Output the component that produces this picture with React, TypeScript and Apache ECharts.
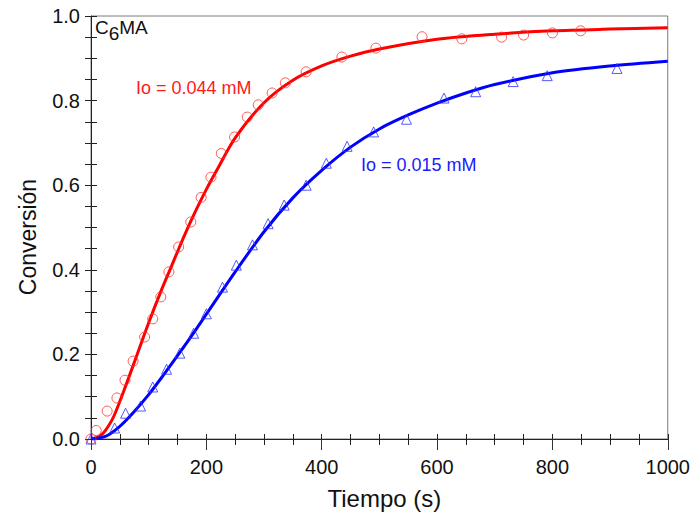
import React, { useEffect, useRef } from "react";
import * as echarts from "echarts";

// Measured points, Io = 0.044 mM (red circles): [time s, conversion]
const redPointsT = [0, 9, 28, 45, 59, 73, 93, 107, 121, 135, 152, 173, 191, 208, 226, 249, 271, 290, 314, 337, 373, 435, 494, 574, 643, 712, 750, 800, 849];
const redPointsY = [0.0, 0.02, 0.066, 0.097, 0.139, 0.184, 0.241, 0.284, 0.336, 0.395, 0.454, 0.513, 0.571, 0.619, 0.675, 0.714, 0.761, 0.79, 0.818, 0.842, 0.868, 0.903, 0.924, 0.951, 0.946, 0.95, 0.955, 0.96, 0.965];

// Measured points, Io = 0.015 mM (blue triangles)
const bluePointsT = [0, 41, 60, 86, 107, 131, 154, 178, 200, 228, 252, 280, 307, 335, 373, 408, 444, 490, 547, 612, 667, 732, 791, 912];
const bluePointsY = [0.0, 0.026, 0.061, 0.078, 0.123, 0.165, 0.203, 0.25, 0.296, 0.359, 0.411, 0.459, 0.509, 0.553, 0.6, 0.652, 0.692, 0.726, 0.756, 0.806, 0.821, 0.845, 0.859, 0.876];

// Fitted curves
const redCurveT = [0, 10, 20, 30, 40, 60, 80, 100, 120, 140, 160, 180, 200, 220, 250, 300, 350, 400, 450, 500, 600, 700, 800, 900, 1000];
const redCurveY = [0.0, 0.003, 0.012, 0.03, 0.055, 0.125, 0.2, 0.275, 0.345, 0.41, 0.475, 0.535, 0.59, 0.64, 0.712, 0.795, 0.848, 0.882, 0.905, 0.922, 0.945, 0.957, 0.965, 0.969, 0.972];

const blueCurveT = [0, 25, 50, 75, 100, 125, 150, 175, 200, 250, 300, 350, 400, 450, 500, 550, 600, 650, 700, 800, 900, 1000];
const blueCurveY = [0.0, 0.006, 0.03, 0.065, 0.105, 0.15, 0.197, 0.245, 0.295, 0.395, 0.49, 0.57, 0.635, 0.69, 0.733, 0.766, 0.794, 0.818, 0.838, 0.866, 0.882, 0.893];

const xTicks = [0, 200, 400, 600, 800, 1000];
const yTicks = [0, 0.2, 0.4, 0.6, 0.8, 1.0];

const FONT = "'Liberation Sans', Arial, sans-serif";

function zip(a: number[], b: number[]) {
  return a.map((v, i) => [v, b[i]]);
}

export default function App() {
  const ref = useRef<HTMLDivElement>(null);
  useEffect(() => {
    if (!ref.current) return;
    const chart = echarts.init(ref.current, undefined, { renderer: "svg" });
    const tickLabel = { fontFamily: FONT, fontSize: 20, color: "#111" };
    chart.setOption({
      animation: false,
      backgroundColor: "#fff",
      grid: {
        left: 91,
        right: 23,
        top: 16,
        bottom: 79,
        show: true,
        borderColor: "#7a7a7a",
        borderWidth: 1,
        backgroundColor: "transparent",
      },
      xAxis: [
        {
          type: "value",
          position: "bottom",
          min: xTicks[0],
          max: xTicks[xTicks.length - 1],
          interval: 200,
          axisLine: { show: true, lineStyle: { color: "#222", width: 1 } },
          axisTick: { show: true, length: 11, lineStyle: { color: "#333" } },
          minorTick: { show: true, splitNumber: 4, length: 6, lineStyle: { color: "#222" } },
          axisLabel: { ...tickLabel, margin: 18, formatter: (v: number) => String(v) },
          splitLine: { show: false },
          name: "Tiempo (s)",
          nameLocation: "middle",
          nameGap: 47,
          nameTextStyle: { fontFamily: FONT, fontSize: 24, color: "#111", padding: [0, 0, 0, 10] },
        },
        {
          type: "value",
          position: "bottom",
          min: 0,
          max: 1000,
          interval: 50,
          axisLine: { show: false },
          axisTick: { show: true, inside: true, length: 5, lineStyle: { color: "#222" } },
          axisLabel: { show: false },
          splitLine: { show: false },
        },
      ],
      yAxis: [
        {
          type: "value",
          position: "left",
          min: yTicks[0],
          max: yTicks[yTicks.length - 1],
          interval: 0.2,
          axisLine: { show: true, lineStyle: { color: "#222", width: 1 } },
          axisTick: { show: true, length: 6, lineStyle: { color: "#222" } },
          minorTick: { show: true, splitNumber: 4, length: 6, lineStyle: { color: "#222" } },
          axisLabel: { ...tickLabel, margin: 11, formatter: (v: number) => v.toFixed(1) },
          splitLine: { show: false },
        },
        {
          type: "value",
          position: "left",
          min: 0,
          max: 1,
          interval: 0.05,
          axisLine: { show: false },
          axisTick: { show: true, inside: true, length: 6, lineStyle: { color: "#222" } },
          axisLabel: { show: false },
          splitLine: { show: false },
        },
      ],
      graphic: [
        {
          type: "text",
          x: 28,
          y: 237,
          rotation: Math.PI / 2,
          style: {
            text: "Conversión",
            fontFamily: FONT,
            fontSize: 23,
            fill: "#111",
            align: "center",
            verticalAlign: "middle",
          },
        },
        {
          type: "text",
          x: 95,
          y: 18,
          style: {
            text: "{a|C}{b|6}{a|MA}",
            fontFamily: FONT,
            fill: "#111",
            rich: {
              a: { fontFamily: FONT, fontSize: 19, fill: "#111", lineHeight: 22, verticalAlign: "top" },
              b: { fontFamily: FONT, fontSize: 19, fill: "#111", lineHeight: 22, padding: [6, 0, 0, 0], verticalAlign: "top" },
            },
          },
        },
        {
          type: "text",
          x: 136,
          y: 88,
          style: {
            text: "Io = 0.044 mM",
            fontFamily: FONT,
            fontSize: 18,
            fill: "#ff1a1a",
            verticalAlign: "middle",
          },
        },
        {
          type: "text",
          x: 361,
          y: 165,
          style: {
            text: "Io = 0.015 mM",
            fontFamily: FONT,
            fontSize: 18,
            fill: "#1a1aff",
            verticalAlign: "middle",
          },
        },
      ],
      series: [
        {
          type: "line",
          name: "Io = 0.044 mM (ajuste)",
          data: zip(redCurveT, redCurveY),
          smooth: 0.3,
          showSymbol: false,
          lineStyle: { color: "#ff0000", width: 3 },
          z: 3,
        },
        {
          type: "line",
          name: "Io = 0.015 mM (ajuste)",
          data: zip(blueCurveT, blueCurveY),
          smooth: 0.3,
          showSymbol: false,
          lineStyle: { color: "#0000ff", width: 3 },
          z: 3,
        },
        {
          type: "scatter",
          name: "Io = 0.044 mM",
          data: zip(redPointsT, redPointsY),
          symbol: "circle",
          symbolSize: 10,
          itemStyle: { color: "transparent", borderColor: "#ff3030", borderWidth: 1 },
          z: 4,
        },
        {
          type: "scatter",
          name: "Io = 0.015 mM",
          data: zip(bluePointsT, bluePointsY),
          symbol: "triangle",
          symbolSize: 10,
          itemStyle: { color: "transparent", borderColor: "#3030ff", borderWidth: 1 },
          z: 4,
        },
      ],
    });
    return () => chart.dispose();
  }, []);
  return <div ref={ref} style={{ width: 693, height: 518, position: "absolute", left: 0, top: 0 }} />;
}
